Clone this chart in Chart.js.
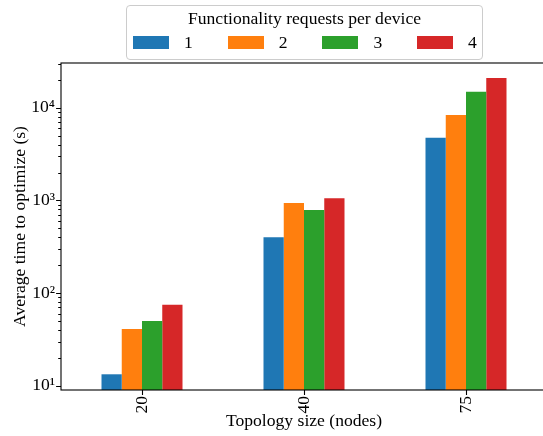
<!DOCTYPE html>
<html>
<head>
<meta charset="utf-8">
<script src="https://cdn.jsdelivr.net/npm/chart.js@4/dist/chart.umd.min.js"></script>
<style>
  html, body { margin: 0; padding: 0; overflow: hidden; background: #fff; }
  #wrap { position: relative; width: 550px; height: 436px; }
  #legend {
    position: absolute; left: 126px; top: 5px; width: 355px; height: 53px;
    border: 1px solid #cccccc; border-radius: 4px; background: rgba(255,255,255,0.8);
    font-family: "Liberation Serif", "Times New Roman", serif; font-size: 17.6px; color: #000;
  }
  #legend .ttl { position: absolute; left: 0; right: 0; top: 3.8px; text-align: center; line-height: 1; white-space: nowrap; }
  #legend .row { position: absolute; left: 6px; top: 27.5px; display: flex; }
  #legend .item { width: 94.7px; display: flex; align-items: center; height: 17.6px; }
  #legend .patch { width: 36px; height: 12.7px; margin-right: 15px; flex: none; }
  #legend .txt { line-height: 1; }
</style>
</head>
<body>
<div id="wrap">
  <canvas id="c" width="550" height="436"></canvas>
  <div id="legend"></div>
</div>
<script>
// ---- data ----
const CATEGORIES = ['20', '40', '75'];
const SERIES_LABELS = ['1', '2', '3', '4'];
const REQ_1 = [13.3, 400, 4750];
const REQ_2 = [41, 940, 8400];
const REQ_3 = [50, 790, 14900];
const REQ_4 = [75, 1060, 21000];
const COLORS = ['#1f77b4', '#ff7f0e', '#2ca02c', '#d62728'];
const MAJOR_TICKS = [10, 100, 1000, 10000];
const MAJOR_LABELS = ['10\u00B9', '10\u00B2', '10\u00B3', '10\u2074'];
const MINOR_MULTS = [2, 3, 4, 5, 6, 7, 8, 9];
const LEGEND_TITLE = 'Functionality requests per device';
const X_TITLE = 'Topology size (nodes)';
const Y_TITLE = 'Average time to optimize (s)';
const Y_MIN = 9.0, Y_MAX = 30500;

const FONT = "'Liberation Serif', 'Times New Roman', serif";
const FS = 17.6;

const allTicks = [];
MAJOR_TICKS.forEach(m => {
  allTicks.push(m);
  MINOR_MULTS.forEach(k => { if (m * k <= Y_MAX) allTicks.push(m * k); });
});

const frame = {
  id: 'frame',
  afterDraw(chart) {
    const { ctx, chartArea: a, scales: { x, y } } = chart;
    ctx.save();
    ctx.strokeStyle = '#000';
    ctx.lineWidth = 1.1;
    ctx.beginPath();
    y.ticks.forEach(t => {
      const py = Math.round(y.getPixelForValue(t.value)) + 0.5;
      const len = MAJOR_TICKS.includes(t.value) ? 4.9 : 2.8;
      ctx.moveTo(a.left, py); ctx.lineTo(a.left - len, py);
    });
    x.ticks.forEach((t, i) => {
      const px = Math.round(x.getPixelForTick(i)) + 0.5;
      ctx.moveTo(px, a.bottom); ctx.lineTo(px, a.bottom + 4.9);
    });
    ctx.stroke();
    ctx.strokeRect(a.left, a.top, a.right - a.left, a.bottom - a.top);
    ctx.restore();
  }
};

const htmlLegend = {
  id: 'htmlLegend',
  afterUpdate(chart) {
    const box = document.getElementById('legend');
    box.innerHTML = '';
    const t = document.createElement('div');
    t.className = 'ttl'; t.textContent = LEGEND_TITLE;
    box.appendChild(t);
    const row = document.createElement('div');
    row.className = 'row';
    chart.data.datasets.forEach(ds => {
      const it = document.createElement('div'); it.className = 'item';
      const p = document.createElement('span'); p.className = 'patch'; p.style.background = ds.backgroundColor;
      const s = document.createElement('span'); s.className = 'txt'; s.textContent = ds.label;
      it.appendChild(p); it.appendChild(s); row.appendChild(it);
    });
    box.appendChild(row);
  }
};

const seriesValues = [REQ_1, REQ_2, REQ_3, REQ_4];

new Chart(document.getElementById('c'), {
  type: 'bar',
  data: {
    labels: CATEGORIES,
    datasets: SERIES_LABELS.map((lab, i) => ({
      label: lab,
      data: seriesValues[i],
      backgroundColor: COLORS[i],
      borderWidth: 0,
      categoryPercentage: 0.5,
      barPercentage: 1.0
    }))
  },
  options: {
    responsive: false,
    animation: false,
    layout: { padding: { top: 63, right: 3, bottom: 0, left: 0 } },
    plugins: { legend: { display: false }, tooltip: { enabled: false } },
    scales: {
      x: {
        type: 'category',
        grid: { display: false, drawTicks: false },
        border: { display: false },
        ticks: { maxRotation: 90, minRotation: 90, padding: 6, color: '#000', font: { family: FONT, size: FS } },
        title: { display: true, text: X_TITLE, color: '#000', font: { family: FONT, size: FS }, padding: { top: 0, bottom: 4 } },
        afterFit(s) { s.height = 46; }
      },
      y: {
        type: 'logarithmic',
        min: Y_MIN, max: Y_MAX,
        grid: { display: false, drawTicks: false },
        border: { display: false },
        afterBuildTicks(s) { s.ticks = allTicks.map(v => ({ value: v })); },
        ticks: {
          autoSkip: false, padding: 6, color: '#000', font: { family: FONT, size: FS },
          callback(v) { const k = MAJOR_TICKS.indexOf(v); return k >= 0 ? MAJOR_LABELS[k] : ''; }
        },
        title: { display: true, text: Y_TITLE, color: '#000', font: { family: FONT, size: FS }, padding: { top: 10, bottom: 0 } },
        afterFit(s) { s.width = 61; }
      }
    }
  },
  plugins: [frame, htmlLegend]
});
</script>
</body>
</html>
